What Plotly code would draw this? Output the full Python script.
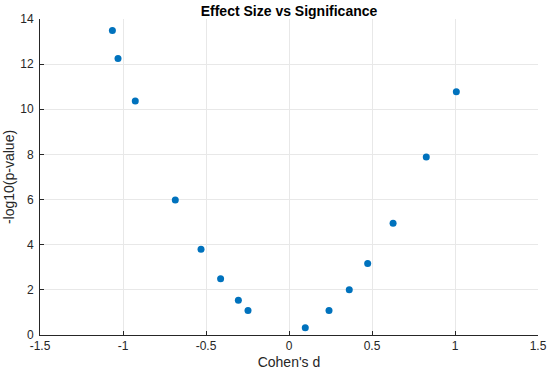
import plotly.graph_objects as go

cohens_d = [-1.064, -1.030, -0.926, -0.685, -0.530, -0.412, -0.305, -0.247,
            0.098, 0.241, 0.363, 0.474, 0.627, 0.827, 1.008]
neg_log_p = [13.49, 12.25, 10.37, 5.98, 3.80, 2.49, 1.54, 1.09,
             0.32, 1.08, 2.01, 3.17, 4.95, 7.89, 10.78]

x_ticks = [-1.5, -1, -0.5, 0, 0.5, 1, 1.5]
x_tick_labels = ["-1.5", "-1", "-0.5", "0", "0.5", "1", "1.5"]
y_ticks = [0, 2, 4, 6, 8, 10, 12, 14]

FONT = "Liberation Sans, Arial, sans-serif"

fig = go.Figure()
fig.add_trace(go.Scatter(
    x=cohens_d, y=neg_log_p, mode="markers",
    marker=dict(color="#0072BD", size=7, line=dict(width=0)),
    showlegend=False,
))

axis_common = dict(
    showgrid=True, gridcolor="#e8e8e8", gridwidth=1,
    showline=True, linecolor="#262626", linewidth=1,
    ticks="inside", ticklen=4, tickcolor="#262626",
    tickfont=dict(family=FONT, size=12, color="#262626"),
    zeroline=False, mirror=False, automargin=False,
)

fig.update_layout(
    width=550, height=373,
    margin=dict(l=40, r=12, t=19, b=38),
    paper_bgcolor="white", plot_bgcolor="white",
    title=dict(text="<b>Effect Size vs Significance</b>", x=0.5, xanchor="center",
               xref="paper", y=1 - 11 / 373, yref="container", yanchor="middle",
               font=dict(family=FONT, size=14, color="#000000")),
    xaxis=dict(range=[-1.5, 1.5], tickvals=x_ticks, ticktext=x_tick_labels,
               title=dict(text="Cohen's d", standoff=4,
                          font=dict(family=FONT, size=14, color="#262626")),
               **axis_common),
    yaxis=dict(range=[0, 14], tickvals=y_ticks, ticklabelstandoff=3,
               title=dict(text="-log10(p-value)", standoff=2,
                          font=dict(family=FONT, size=14, color="#262626")),
               **axis_common),
)

fig.write_html("out.html", config={"displayModeBar": False},
               post_script="document.body.style.margin='0';document.body.style.overflow='hidden';")
